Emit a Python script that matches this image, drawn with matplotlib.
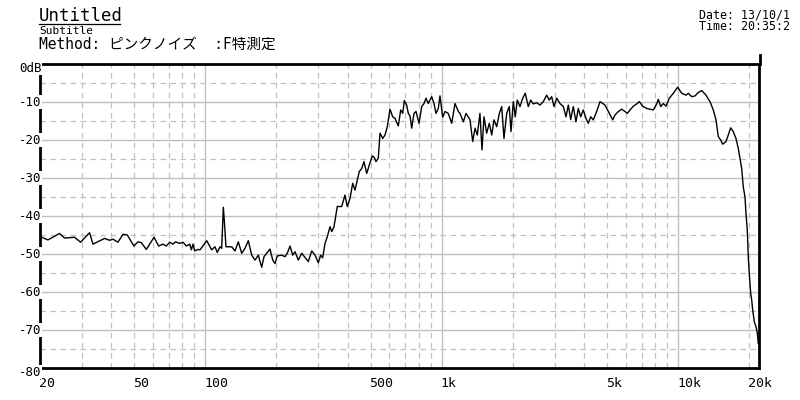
import matplotlib
matplotlib.use("Agg")
import matplotlib.pyplot as plt
from matplotlib.lines import Line2D

# ---------------- data ----------------
freq_hz = [
    20.0, 21.6, 24.2, 25.4, 28.0, 29.7, 32.4, 33.5, 35.8, 37.5, 39.4, 40.7, 42.7, 44.9, 46.8,
    49.9, 51.9, 53.6, 56.3, 60.7, 63.5, 66.2, 68.4, 70.7, 73.0, 74.7, 77.9, 80.5, 83.1, 85.9,
    87.3, 88.7, 90.2, 93.1,
    95.0, 101.4, 106.4, 109.9, 112.4, 115.4, 117.3, 119.2, 120.3, 122.3, 129.3, 133.5, 137.9,
    142.5, 147.2, 152.0, 157.1, 162.3, 167.5, 173.2, 177.1, 181.8, 187.7, 192.8, 197.1, 201.6,
    210.4, 217.3, 222.2, 228.1, 234.2, 239.5, 247.3, 255.6, 263.9, 272.6, 281.8, 291.0, 300.5,
    307.6, 313.6,
    320.8, 328.1, 336.8, 342.4, 350.1, 361.5, 377.3, 389.6, 398.4, 409.0, 420.0, 429.5, 447.8,
    458.4, 468.8, 481.3, 493.6, 508.2, 518.2, 526.9, 538.8, 547.8, 562.4, 575.2, 588.2, 603.9,
    620.0, 634.0, 654.7, 670.2, 683.4, 694.1, 710.5, 721.7, 733.8, 746.0, 762.9, 778.0, 801.1,
    822.4, 841.0, 857.6, 877.0, 891.6, 906.5, 926.8, 945.1, 966.5, 982.5, 1009, 1032, 1065,
    1101, 1137, 1175,
    1194, 1233, 1266, 1316, 1351, 1382, 1413, 1450, 1479, 1508, 1548, 1588, 1626, 1662, 1707,
    1751, 1792, 1832, 1881, 1929, 1961, 2006, 2045, 2085, 2141, 2198, 2254, 2321, 2376, 2437,
    2519, 2602, 2687, 2776, 2847, 2915, 2981, 3060, 3160, 3264, 3351, 3427, 3508, 3597, 3693,
    3777, 3866, 3965, 4071, 4163, 4262, 4371, 4518,
    4666, 4899, 5108, 5280, 5400, 5577, 5764, 5952, 6087, 6249, 6453, 6670, 6841, 7071, 7352,
    7592, 7841, 8104, 8231, 8425, 8641, 8872, 9161, 9525, 9941, 10335, 10777, 11022, 11392,
    11765, 12150, 12560, 13094, 13614, 14060, 14434, 14760, 15110, 15407, 15908, 16268, 16652,
    17080, 17535, 17932, 18230,
    18535, 18826, 19141, 19327, 19573, 19766, 19958, 20232, 20430, 20628, 20952, 21302, 21574,
    21786,
]
level_db = [
    -45.4, -46.3, -44.6, -45.8, -45.6, -46.9, -44.4, -47.4, -46.5, -45.9, -46.4, -46.1, -46.9, -44.8, -45.0,
    -47.9, -46.8, -47.0, -48.8, -45.6, -47.9, -47.4, -47.9, -46.9, -47.4, -46.8, -47.2, -46.9, -47.9, -47.4,
    -48.9, -47.4, -49.2, -48.8,
    -48.9, -46.5, -48.9, -48.1, -49.6, -48.1, -48.5, -37.7, -41.1, -48.1, -48.1, -49.2, -46.8,
    -49.8, -48.5, -46.5, -50.3, -51.6, -50.3, -53.5, -50.7, -49.8, -48.7, -51.6, -52.5, -50.5,
    -50.3, -50.7, -49.8, -47.9, -50.3, -49.4, -51.6, -49.8, -50.9, -52.0, -49.2, -50.3, -52.3,
    -50.3, -51.0,
    -47.2, -45.4, -42.8, -44.1, -42.8, -37.5, -37.5, -34.5, -37.5, -35.4, -31.4, -33.2, -28.3,
    -27.5, -25.7, -28.8, -26.6, -24.2, -24.6, -25.7, -24.8, -18.2, -19.6, -18.7, -16.5, -11.9,
    -13.9, -14.3, -16.3, -12.1, -13.0, -9.6, -10.8, -13.0, -13.7, -16.9, -13.0, -12.5, -15.6,
    -11.2, -10.4, -9.0, -10.4, -9.5, -8.6, -10.4, -13.0, -11.7, -8.4, -14.0, -12.5, -13.0,
    -15.6, -10.4, -12.5,
    -13.0, -15.2, -13.0, -14.7, -20.4, -16.9, -18.7, -13.0, -22.6, -13.9, -18.2, -15.6, -18.7, -14.7, -16.5,
    -13.0, -11.2, -19.6, -13.0, -11.2, -17.8, -9.9, -13.9, -9.5, -11.2, -9.0, -7.7, -11.2, -9.5, -10.5,
    -10.2, -10.8, -9.9, -8.2, -9.5, -8.6, -11.2, -9.0, -10.4, -11.2, -13.9, -10.8, -14.6, -11.2, -15.2,
    -11.7, -13.9, -12.1, -14.3, -15.6, -13.9, -14.7, -12.5,
    -9.9, -10.8, -13.0, -14.7, -13.4, -12.5, -11.9, -12.5, -13.0, -12.1, -11.1, -10.5, -9.9, -11.1, -11.7,
    -11.9, -12.1, -10.5, -9.3, -11.2, -10.4, -11.1, -9.0, -7.7, -6.1, -7.7, -8.2, -7.7, -8.6,
    -8.4, -7.5, -7.0, -8.2, -9.9, -12.1, -14.7, -19.1, -20.0, -21.1, -20.4, -18.7, -16.8,
    -17.8, -19.6, -22.2, -24.8,
    -27.5, -32.3, -35.0, -39.3, -43.6, -50.7, -55.1, -60.4, -62.0, -64.7, -67.8, -69.1, -70.8,
    -73.5,
]

x_tick_values = [20, 50, 100, 500, 1000, 5000, 10000, 20000]
x_tick_labels = ["20", "50", "100", "500", "1k", "5k", "10k", "20k"]
y_tick_values = [0, -10, -20, -30, -40, -50, -60, -70, -80]
y_tick_labels = ["0dB", "-10", "-20", "-30", "-40", "-50", "-60", "-70", "-80"]

x_grid_major = [100, 1000, 10000]
x_grid_minor = [30, 40, 50, 60, 70, 80, 90,
                200, 300, 400, 500, 600, 700, 800, 900,
                2000, 3000, 4000, 5000, 6000, 7000, 8000, 9000, 20000]
y_grid_major = [-10, -20, -30, -40, -50, -60, -70]
y_grid_minor = [-5, -15, -25, -35, -45, -55, -65, -75]

title_text = "Untitled"
subtitle_text = "Subtitle"
method_text = "Method: ピンクノイズ  :F特測定"
date_text = "Date: 13/10/1"
time_text = "Time: 20:35:2"

# ---------------- figure ----------------
W, H = 800, 400
fig = plt.figure(figsize=(8, 4), dpi=100)
fig.patch.set_facecolor("white")
ax = fig.add_axes([40 / W, 32 / H, 719 / W, 304 / H])
ax.set_xscale("log")
ax.set_xlim(20, 21940)
ax.set_ylim(-80, 0)

GRID = "#c0c0c0"
for v in x_grid_major:
    ax.axvline(v, color=GRID, lw=1.0, zorder=1)
for v in x_grid_minor:
    ax.axvline(v, color=GRID, lw=0.9, ls=(0, (4.5, 3.5)), zorder=1)
for v in y_grid_major:
    ax.axhline(v, color=GRID, lw=1.0, zorder=1)
for v in y_grid_minor:
    ax.axhline(v, color=GRID, lw=0.9, ls=(0, (4.5, 3.5)), zorder=1)

ax.plot(freq_hz, level_db, color="black", lw=1.0, zorder=3)

ax.set_xticks([])
ax.set_yticks([])
ax.minorticks_off()
for s in ax.spines.values():
    s.set_linewidth(2.0)
    s.set_color("black")
    s.set_zorder(4)

mono = "DejaVu Sans Mono"
for v, lab in zip(x_tick_values, x_tick_labels):
    ax.annotate(lab, xy=(v, 0), xycoords=("data", "axes fraction"),
                xytext=(-1, -6.5), textcoords="offset points",
                ha="left", va="top", family=mono, fontsize=9.5)
for i, (v, lab) in enumerate(zip(y_tick_values, y_tick_labels)):
    dy = -3 if i in (0, len(y_tick_values) - 1) else 0
    ax.annotate(lab, xy=(0, v), xycoords=("axes fraction", "data"),
                xytext=(1, dy), textcoords="offset points",
                ha="right", va="center", family=mono, fontsize=9,
                annotation_clip=False, zorder=6,
                bbox=dict(boxstyle="square,pad=0.05", fc="white", ec="none"))

# small mark where the right frame line pokes above the top
fig.add_artist(Line2D([760 / W, 760 / W], [1 - 55 / H, 1 - 64 / H],
                      transform=fig.transFigure, color="black", lw=2.0))

# header texts
fig.text(39 / W, 1 - 21 / H, title_text, family=mono, fontsize=12.5, va="baseline", ha="left")
fig.add_artist(Line2D([39 / W, 120 / W], [1 - 23.5 / H, 1 - 23.5 / H],
                      transform=fig.transFigure, color="black", lw=0.9))
fig.text(39 / W, 1 - 34.5 / H, subtitle_text, family=mono, fontsize=8, va="baseline", ha="left")
fig.text(39 / W, 1 - 48.5 / H, method_text, family=[mono, "Noto Sans CJK JP"],
         fontsize=10.5, va="baseline", ha="left")
fig.text(699 / W, 1 - 18 / H, date_text, family=mono, fontsize=8.4, va="baseline", ha="left")
fig.text(699 / W, 1 - 30 / H, time_text, family=mono, fontsize=8.4, va="baseline", ha="left")

fig.savefig("out.png", dpi=100)
